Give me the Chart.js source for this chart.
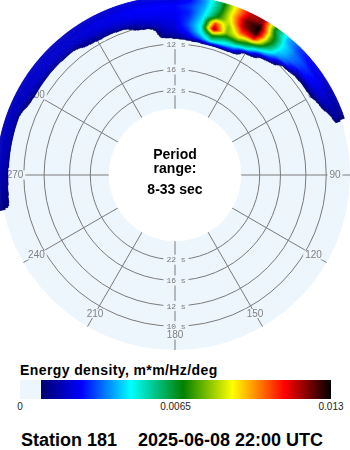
<!DOCTYPE html>
<html lang="en">
<head>
<meta charset="UTF-8">
<title>Station 181 directional spectrum</title>
<script src="https://cdn.jsdelivr.net/npm/chart.js"></script>
<style>
  body { margin: 0; background: #fff; font-family: "Liberation Sans", Arial, sans-serif; color: #000; }
  #wrap { position: relative; width: 350px; height: 450px; overflow: hidden; }
  #chart { position: absolute; left: 0; top: 0; }
  .mid { position: absolute; left: 0; width: 350px; text-align: center; font-weight: bold; font-size: 14px; line-height: 16px; }
  #cbTitle { position: absolute; left: 20px; top: 362px; font-weight: bold; font-size: 14px; line-height: 16px; letter-spacing: 0.4px; }
  #cbZero, #cbGrad { position: absolute; top: 380px; height: 19px; }
  .cbLab { position: absolute; top: 401px; width: 60px; margin-left: -30px; text-align: center; font-size: 10px; line-height: 12px; color: #222; }
  .foot { position: absolute; top: 430px; font-weight: bold; font-size: 18px; line-height: 20px; }
</style>
</head>
<body>
<div id="wrap">
  <canvas id="chart" width="350" height="350"></canvas>
  <div class="mid" style="top:146px">Period</div>
  <div class="mid" style="top:160px">range:</div>
  <div class="mid" style="top:181px">8-33 sec</div>
  <div id="cbTitle">Energy density, m*m/Hz/deg</div>
  <div id="cbZero"></div>
  <div id="cbGrad"></div>
  <div id="cbLabels"></div>
  <div class="foot" style="left:21px">Station 181</div>
  <div class="foot" style="left:138px">2025-06-08 22:00 UTC</div>
</div>
<script>
// rings (period, s) and compass spokes
const periodTicks = [22, 16, 12, 10];
const periodRange = [8, 33];
const spokeLabels = ['0', '30', '60', '90', '120', '150', '180', '210', '240', '270', '300', '330'];

// direction bins (deg, 5 deg apart) that carry energy
const dirs = [260, 265, 270, 275, 280, 285, 290, 295, 300, 305, 310, 315, 320, 325, 330, 335, 340, 345, 350, 355,
              0, 5, 10, 15, 20, 25, 30, 35, 40, 45, 50, 55, 60, 65, 70];

// frequency bins (Hz) and energy density per bin, m*m/Hz/deg
const freqs = [0.09, 0.095, 0.1, 0.105, 0.11, 0.115, 0.12];
const e090 = [0, 0, 0, 0, 0, 0, 0, 0, 0, 0, 0, 0, 0, 0, 0, 0, 0, 0, 0, .0011,
              .0014, .0020, .0032, .0050, .0042, .0032, 0, 0, 0, 0, 0, 0, 0, 0, 0];
const e095 = [0, 0, 0, 0, 0, 0, 0, 0, 0, 0, 0, 0, 0, 0, 0, 0, 0, 0, 0, .0017,
              .0020, .0028, .0045, .0072, .0060, .0060, .0045, .0012, 0, 0, 0, 0, 0, 0, 0];
const e100 = [0, 0, 0, 0, 0, 0, 0, 0, 0, 0, 0, 0, 0, 0, 0, 0, 0, .0011, .0016, .0020,
              .0022, .0032, .0048, .0120, .0078, .0085, .0068, .0045, .0025, 0, 0, 0, 0, 0, 0];
const e105 = [0, 0, 0, 0, 0, 0, 0, 0, 0, 0, 0, 0, 0, .0010, .0014, .0015, .0017, .0019, .0022, .0023,
              .0024, .0030, .0045, .0105, .0078, .0105, .0110, .0065, .0040, .0030, .0013, .0011, .0010, 0, 0];
const e110 = [0, 0, 0, 0, 0, 0, 0, .0010, .0015, .0016, .0016, .0016, .0017, .0018, .0020, .0021, .0022, .0024, .0025, .0025,
              .0025, .0028, .0042, .0068, .0088, .0118, .0128, .0075, .0045, .0035, .0028, .0024, .0020, .0015, 0];
const e115 = [.0010, .0013, .0015, .0017, .0017, .0017, .0017, .0018, .0019, .0020, .0020, .0020, .0020, .0021, .0022, .0023, .0024, .0025, .0026, .0026,
              .0026, .0030, .0040, .0062, .0092, .0122, .0130, .0075, .0045, .0035, .0030, .0026, .0022, .0018, .0015];
const e120 = [.0013, .0015, .0017, .0018, .0018, .0018, .0018, .0018, .0019, .0019, .0019, .0019, .0019, .0019, .0020, .0020, .0021, .0022, .0022, .0022,
              .0022, .0026, .0038, .0060, .0090, .0115, .0120, .0065, .0040, .0030, .0025, .0022, .0018, .0016, .0013];
const energy = [e090, e095, e100, e105, e110, e115, e120];

// colour scale
const colorTicks = [0, 0.0065, 0.013];
const zeroBelow = 0.00088;
const cmapStops = [[0, [0, 0, 110]], [0.14, [0, 0, 255]], [0.31, [0, 255, 255]], [0.49, [0, 128, 0]],
                   [0.66, [255, 255, 0]], [0.84, [255, 0, 0]], [1, [0, 0, 0]]];

const diskColor = '#eef6fd';
const gridColor = '#7a7a7a';
const labelColor = '#808080';

function cmap(t) {
  t = Math.max(0, Math.min(1, t));
  for (let i = 1; i < cmapStops.length; i++) {
    const [t1, c1] = cmapStops[i];
    if (t <= t1) {
      const [t0, c0] = cmapStops[i - 1];
      const u = (t - t0) / (t1 - t0);
      return 'rgb(' + c0.map((c, k) => Math.round(c + (c1[k] - c) * u)).join(',') + ')';
    }
  }
  return 'rgb(0,0,0)';
}
const vmax = colorTicks[colorTicks.length - 1];
const colorOf = v => cmap((v - zeroBelow) / (vmax - zeroBelow));

// colour bar
const barLeft = 20, barWidth = 311;
const zeroW = zeroBelow / vmax * barWidth;
const cbZero = document.getElementById('cbZero');
cbZero.style.left = barLeft + 'px';
cbZero.style.width = zeroW + 'px';
cbZero.style.background = diskColor;
const cbGrad = document.getElementById('cbGrad');
cbGrad.style.left = (barLeft + zeroW) + 'px';
cbGrad.style.width = (barWidth - zeroW) + 'px';
cbGrad.style.background = 'linear-gradient(to right, ' +
  cmapStops.map(([t, c]) => 'rgb(' + c.join(',') + ') ' + (t * 100) + '%').join(', ') + ')';
const cbLabels = document.getElementById('cbLabels');
colorTicks.forEach(v => {
  const d = document.createElement('div');
  d.className = 'cbLab';
  d.style.left = (barLeft + v / vmax * barWidth) + 'px';
  d.textContent = v === 0 ? '0' : String(v);
  cbLabels.appendChild(d);
});

// value at fractional bin position, shaded between bin centres
const df = freqs[1] - freqs[0];
const dd = dirs[1] - dirs[0];
function nodeValue(k, j) {
  if (k < 0 || j < 0 || j >= dirs.length) return 0;
  return energy[Math.min(k, energy.length - 1)][j];
}
function shaded(u, w) {
  const k = Math.floor(u), j = Math.floor(w);
  const tu = u - k, tw = w - j;
  return (nodeValue(k, j) * (1 - tw) + nodeValue(k, j + 1) * tw) * (1 - tu) +
         (nodeValue(k + 1, j) * (1 - tw) + nodeValue(k + 1, j + 1) * tw) * tu;
}

const polarHeat = {
  id: 'polarHeat',
  beforeDatasetsDraw(chart) {
    const s = chart.scales.r;
    const c = chart.ctx;
    const xc = s.xCenter, yc = s.yCenter;
    const ang = d => s.getIndexAngle(d / 360 * spokeLabels.length) - Math.PI / 2;
    c.save();
    c.textAlign = 'center';
    c.textBaseline = 'middle';

    // period labels, top and bottom
    c.font = '8px "Liberation Mono"';
    periodTicks.forEach(p => {
      const d = s.getDistanceFromCenterForValue(1 / p);
      [-1, 1].forEach(sg => {
        const y = yc + sg * d;
        const txt = p + ' s';
        const w = c.measureText(txt).width + 6;
        c.fillStyle = diskColor;
        c.fillRect(xc + 1 - w / 2, y - 5, w, 10);
        c.fillStyle = '#777';
        c.fillText(txt, xc + 1, y + 0.5);
      });
    });

    // compass labels on the spokes
    c.font = '10px "Liberation Sans"';
    spokeLabels.forEach((lab, i) => {
      const p = s.getPointPosition(i, s.drawingArea - 15);
      const w = c.measureText(lab).width + 4;
      c.fillStyle = diskColor;
      c.fillRect(p.x - w / 2, p.y - 4.5, w, 9);
      c.fillStyle = labelColor;
      c.fillText(lab, p.x, p.y + 0.5);
    });

    // energy, drawn as fine polar cells shaded between bin centres
    const fSub = 10, dSub = 10;
    const fStep = df / fSub, dStep = dd / dSub;
    const nF = Math.round((energy.length + 0.5) * fSub);
    const nD = (dirs.length + 1) * dSub;
    c.lineWidth = 0.5;
    for (let i = 0; i < nF; i++) {
      const f0 = freqs[0] - df + i * fStep;
      const u = (f0 + fStep / 2 - freqs[0]) / df;
      const r0 = s.getDistanceFromCenterForValue(f0);
      const r1 = s.getDistanceFromCenterForValue(f0 + fStep);
      for (let m = 0; m < nD; m++) {
        const a = dirs[0] - dd + m * dStep;
        const w = (a + dStep / 2 - dirs[0]) / dd;
        const v = shaded(u, w);
        if (v < zeroBelow) continue;
        const a0 = ang(a), a1 = ang(a + dStep);
        const col = colorOf(v);
        c.beginPath();
        c.arc(xc, yc, r1, a0, a1);
        c.arc(xc, yc, r0, a1, a0, true);
        c.closePath();
        c.fillStyle = col;
        c.strokeStyle = col;
        c.fill();
        c.stroke();
      }
    }

    // empty centre (periods longer than the range)
    c.beginPath();
    c.arc(xc, yc, s.getDistanceFromCenterForValue(1 / periodRange[1]), 0, Math.PI * 2);
    c.fillStyle = '#fff';
    c.fill();
    c.restore();
  }
};

new Chart(document.getElementById('chart').getContext('2d'), {
  type: 'polarArea',
  data: { labels: spokeLabels, datasets: [] },
  options: {
    responsive: false,
    animation: false,
    events: [],
    plugins: { legend: { display: false }, tooltip: { enabled: false } },
    scales: {
      r: {
        min: -0.024,
        max: 0.1195,
        startAngle: 0,
        backgroundColor: diskColor,
        grid: { circular: true, color: gridColor, lineWidth: 1 },
        angleLines: { display: true, color: gridColor, lineWidth: 1 },
        pointLabels: { display: false },
        ticks: { display: false },
        afterBuildTicks: sc => { sc.ticks = periodTicks.map(p => ({ value: 1 / p })); }
      }
    }
  },
  plugins: [polarHeat]
});
</script>
</body>
</html>
